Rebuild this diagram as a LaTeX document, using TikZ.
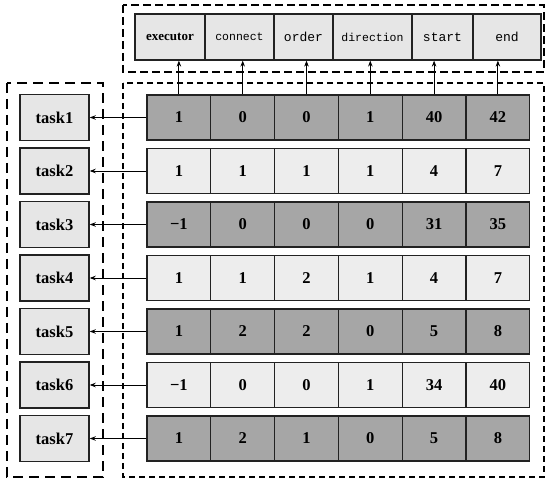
\documentclass[tikz,border=0pt]{standalone}
\usepackage{fontspec}
\setmainfont{Liberation Serif}
\newfontfamily\monof{Liberation Mono}
\usetikzlibrary{arrows.meta}
\definecolor{darkcell}{HTML}{A6A6A6}
\definecolor{lightcell}{HTML}{EDEDED}
\definecolor{headcell}{HTML}{E6E6E6}
\definecolor{taskcell}{HTML}{E6E6E6}
\definecolor{edgec}{HTML}{222222}
\tikzset{
  cellbase/.style={draw=edgec, line width=1.3pt, minimum height=45pt, inner sep=0pt, anchor=center, font=\bfseries\fontsize{16.5}{18}\selectfont},
  darkrow/.style={cellbase, fill=darkcell, minimum width=63.8pt},
  lightrow/.style={cellbase, fill=lightcell, minimum width=63.8pt},
  taskbox/.style={draw=edgec, line width=1.5pt, fill=taskcell, minimum width=69pt, minimum height=46pt, inner sep=0pt, font=\bfseries\fontsize{16.5}{18}\selectfont},
  headbox/.style={draw=edgec, line width=1.2pt, fill=headcell, minimum height=46pt, inner sep=0pt},
  groupframe/.style={draw=black, line width=1.6pt},
  link/.style={draw=black, line width=0.9pt, -{Stealth[length=6pt,width=4.5pt]}},
}
\begin{document}
\begin{tikzpicture}[x=1pt,y=-1pt]
\useasboundingbox (0,0) rectangle (550,486);
% group frames
\draw[groupframe, dash pattern=on 8pt off 4pt] (123,5) rectangle (544,72);
\draw[groupframe, dash pattern=on 6pt off 4pt] (123,83) rectangle (544,477);
\draw[groupframe, dash pattern=on 10pt off 6pt] (7,83) rectangle (103,477);
% header
\node[headbox, minimum width=70pt, font=\bfseries\fontsize{13}{15}\selectfont] (h1) at (170,37) {executor};
\node[headbox, minimum width=69pt, font=\monof\fontsize{11.5}{13}\selectfont] (h2) at (239.5,37) {connect};
\node[headbox, minimum width=59pt, font=\monof\fontsize{13}{15}\selectfont] (h3) at (303.5,37) {order};
\node[headbox, minimum width=79pt, font=\monof\fontsize{11.5}{13}\selectfont] (h4) at (372.5,37) {direction};
\node[headbox, minimum width=61pt, font=\monof\fontsize{13}{15}\selectfont] (h5) at (442.5,37) {start};
\node[headbox, minimum width=68pt, font=\monof\fontsize{13}{15}\selectfont] (h6) at (507,37) {end};
% rows
\foreach \r/\sty/\a/\b/\c/\d/\e/\f in {
  1/darkrow/1/0/0/1/40/42,
  2/lightrow/1/1/1/1/4/7,
  3/darkrow/−1/0/0/0/31/35,
  4/lightrow/1/1/2/1/4/7,
  5/darkrow/1/2/2/0/5/8,
  6/lightrow/−1/0/0/1/34/40,
  7/darkrow/1/2/1/0/5/8}{
  \pgfmathsetmacro{\yy}{117.5+53.5*(\r-1)}
  \node[\sty] (c\r-1) at (178.9,\yy) {\a};
  \node[\sty] (c\r-2) at (242.7,\yy) {\b};
  \node[\sty] (c\r-3) at (306.5,\yy) {\c};
  \node[\sty] (c\r-4) at (370.3,\yy) {\d};
  \node[\sty] (c\r-5) at (434.1,\yy) {\e};
  \node[\sty] (c\r-6) at (497.9,\yy) {\f};
  \node[taskbox] (t\r) at (54.5,\yy) {task\r};
  \draw[link] (c\r-1.west) -- (t\r.east);
}
% vertical links
\foreach \j in {1,...,6}{
  \draw[link] (c1-\j.north) -- (c1-\j.north |- h\j.south);
}
\end{tikzpicture}
\end{document}
